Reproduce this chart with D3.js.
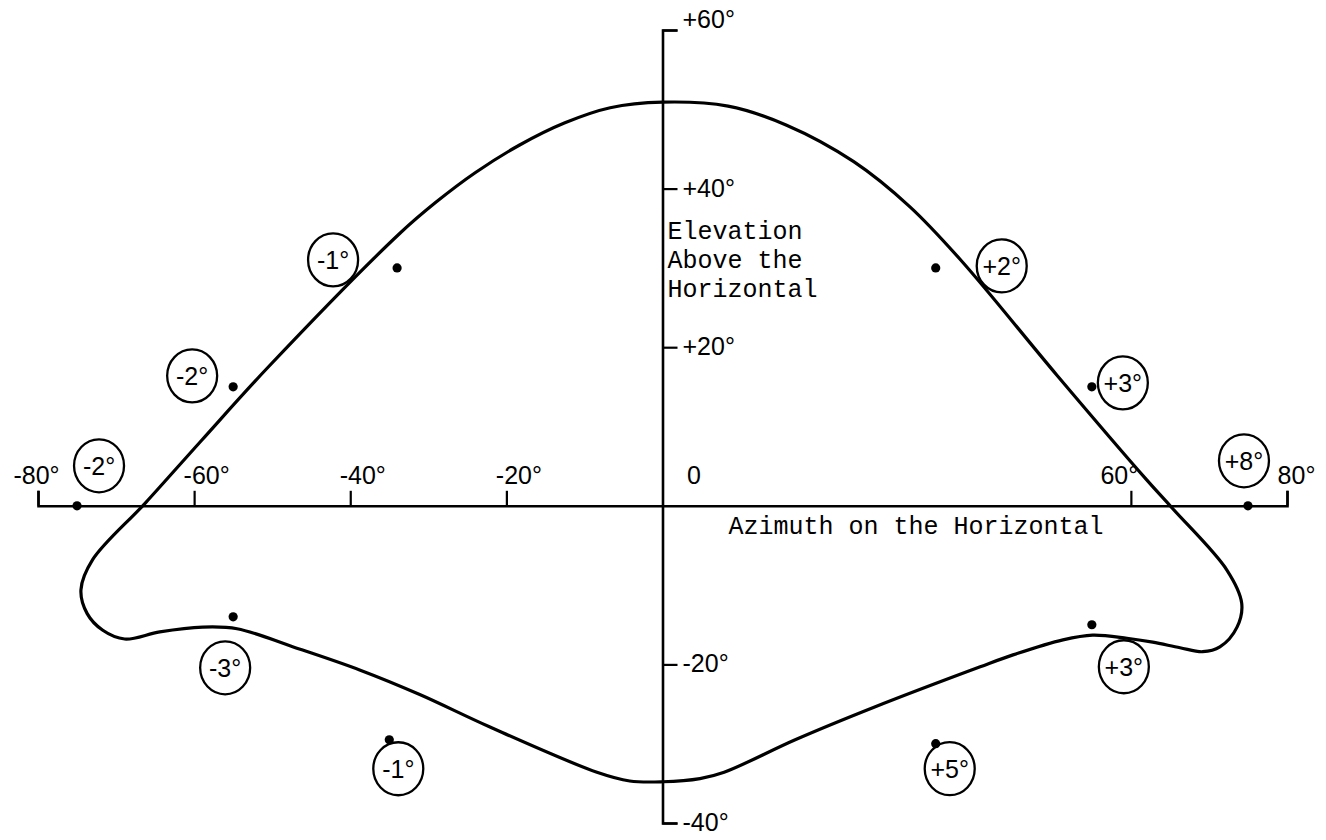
<!DOCTYPE html>
<html>
<head>
<meta charset="utf-8">
<script src="https://cdn.jsdelivr.net/npm/d3@7/dist/d3.min.js"></script>
<style>
  html, body { margin: 0; padding: 0; background: #fff; }
  svg { display: block; }
</style>
</head>
<body>
<script>
// Axis ticks and their labels (degrees)
const azimuthTicks = [-80, -60, -40, -20, 0, 60, 80];
const azimuthTickLabels = ["-80°", "-60°", "-40°", "-20°", "0", "60°", "80°"];
const elevationTicks = [60, 40, 20, -20, -40];
const elevationTickLabels = ["+60°", "+40°", "+20°", "-20°", "-40°"];

// Coverage envelope, traced clockwise from the top (azimuth, elevation in degrees)
const envelopeAz = [0, 8.4, 15.9, 24.5, 31.7, 38.2, 50.5, 62.0, 65.4, 72.3, 74.2, 73.6, 71.4, 69.2, 66.3, 62.8,
  59.5, 55.1, 51.3, 44.9, 40.7, 27.1, 17.0, 7.9, 4.8, 0, -4.2, -8.4, -22.1, -31.1, -38.8, -47.3, -54.5, -58.9,
  -64.4, -68.9, -71.7, -73.7, -74.5, -73.0, -66.2, -59.0, -50.5, -33.6, -29.0, -24.0, -18.3, -12.5, -6.7];
const envelopeEl = [50.9, 50.4, 48.0, 43.4, 37.7, 31.0, 16.5, 3.3, -0.4, -8.1, -12.3, -15.3, -17.8, -18.4, -17.9, -17.2,
  -16.7, -16.3, -16.9, -18.8, -20.3, -25.4, -29.5, -33.6, -34.4, -34.8, -34.7, -33.6, -27.9, -23.8, -20.7, -17.8, -15.5, -15.3,
  -15.9, -16.8, -15.7, -13.6, -10.6, -6.8, 0.4, 8.3, 17.5, 34.4, 38.3, 42.0, 45.5, 48.3, 50.2];

// Test points and the error measured at each (degrees)
const sampleAz = [-34, -55, -75, 35, 55, 75, -55, -35, 35, 55];
const sampleEl = [30, 15, 0, 30, 15, 0, -14, -29.5, -30, -15];
const sampleError = [-1, -2, -2, 2, 3, 8, -3, -1, 5, 3];

// Where each circled error label sits relative to its point (px)
const calloutDx = [-64, -41, 22, 66, 31, -4, -8, 9, 14, 32];
const calloutDy = [-8, -11, -40, -2, -4, -45, 51, 29, 25, 42];

const W = 1326, H = 840;
const svg = d3.select("body").append("svg").attr("width", W).attr("height", H);

const x = d3.scaleLinear().domain([-80, 80]).range([38, 1287]);
const y = d3.scaleLinear().domain([-40, 60]).range([823, 30]);

const sans = "'Liberation Sans', Arial, sans-serif";
const mono = "'Liberation Mono', 'Courier New', monospace";

// Horizontal (azimuth) axis, ticks pointing up
const xAxis = d3.axisTop(x)
  .tickValues(azimuthTicks)
  .tickSizeInner(15)
  .tickSizeOuter(15)
  .tickPadding(8)
  .tickFormat((d, i) => azimuthTickLabels[i]);

const gx = svg.append("g").attr("transform", `translate(0,${y(0)})`).call(xAxis);
gx.select(".domain").attr("stroke", "#000").attr("stroke-width", 2.6).attr("fill", "none");
gx.selectAll(".tick line").attr("stroke", "#000").attr("stroke-width", 2.2)
  .filter(d => d === 0).remove();
gx.selectAll(".tick text")
  .attr("font-family", sans).attr("font-size", 25).attr("fill", "#000")
  .attr("y", -22).attr("dy", 0)
  .attr("dx", d => d === -80 ? -2 : d === 0 ? 31 : d === 60 ? -12 : d === 80 ? 9 : 12);

// Vertical (elevation) axis, ticks pointing right
const yAxis = d3.axisRight(y)
  .tickValues(elevationTicks)
  .tickSizeInner(15)
  .tickSizeOuter(15)
  .tickPadding(5)
  .tickFormat((d, i) => elevationTickLabels[i]);

const gy = svg.append("g").attr("transform", `translate(${x(0)},0)`).call(yAxis);
gy.select(".domain").attr("stroke", "#000").attr("stroke-width", 2.6).attr("fill", "none");
gy.selectAll(".tick line").attr("stroke", "#000").attr("stroke-width", 2.2);
gy.selectAll(".tick text")
  .attr("font-family", sans).attr("font-size", 25).attr("fill", "#000")
  .attr("dy", d => d === 60 ? "-0.1em" : "0.3em");

// Axis titles
svg.append("text")
  .attr("x", x(0) + 66).attr("y", y(0) + 28)
  .attr("font-family", mono).attr("font-size", 25).attr("fill", "#000")
  .text("Azimuth on the Horizontal");

const elevTitle = ["Elevation", "Above the", "Horizontal"];
svg.append("g").selectAll("text").data(elevTitle).join("text")
  .attr("x", x(0) + 5).attr("y", (d, i) => 239 + i * 29)
  .attr("font-family", mono).attr("font-size", 25).attr("fill", "#000")
  .text(d => d);

// Coverage envelope
const pts = envelopeAz.map((a, i) => [x(a), y(envelopeEl[i])]);
svg.append("path")
  .attr("d", d3.line().curve(d3.curveCatmullRomClosed.alpha(0.5))(pts))
  .attr("fill", "none").attr("stroke", "#000").attr("stroke-width", 3.2)
  .attr("stroke-linejoin", "round");

// Test points with circled error labels
const samples = sampleAz.map((a, i) => ({
  az: a, el: sampleEl[i], err: sampleError[i], dx: calloutDx[i], dy: calloutDy[i]
}));

const callouts = svg.append("g").selectAll("g").data(samples).join("g")
  .attr("transform", d => `translate(${x(d.az) + d.dx},${y(d.el) + d.dy})`);
callouts.append("ellipse")
  .attr("rx", 25).attr("ry", 26.5)
  .attr("fill", "#fff").attr("stroke", "#000").attr("stroke-width", 2.3);
callouts.append("text")
  .attr("text-anchor", "middle").attr("dy", "0.36em")
  .attr("font-family", sans).attr("font-size", 25).attr("fill", "#000")
  .text(d => (d.err > 0 ? "+" : "-") + Math.abs(d.err) + "°");

svg.append("g").selectAll("circle").data(samples).join("circle")
  .attr("cx", d => x(d.az)).attr("cy", d => y(d.el)).attr("r", 4.6).attr("fill", "#000");
</script>
</body>
</html>
